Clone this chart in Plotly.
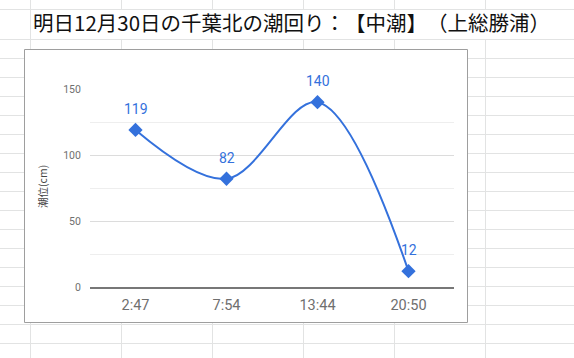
import plotly.graph_objects as go

# ---- data ----
times = ["2:47", "7:54", "13:44", "20:50"]
tide_cm = [119, 82, 140, 12]
title_text = "明日12月30日の千葉北の潮回り：【中潮】（上総勝浦）"
y_title = "潮位(cm)"
y_ticks = [0, 50, 100, 150]

# ---- layout geometry (pixels) ----
W, H = 574, 358
L, R, T, B = 90, 120, 89, 71
PW, PH = W - L - R, H - T - B
BLUE = "#3471dc"


def fx(px):
    return (px - L) / PW


def fy(py):
    return (H - B - py) / PH


shapes = []
grid_col = "#e2e3e3"
# spreadsheet row lines
rows = [9.5, 39.5] + [39.5 + 19 * k for k in range(1, 17)]
for yy in rows:
    shapes.append(dict(type="line", xref="paper", yref="paper",
                       x0=fx(0), x1=fx(W), y0=fy(yy), y1=fy(yy),
                       line=dict(color=grid_col, width=1), layer="below"))
# spreadsheet column lines (hidden in title row except first)
cols = [30.5, 121.5, 212.5, 303.5, 394.5, 485.5]
for i, xx in enumerate(cols):
    if i == 0:
        segs = [(0, H)]
    else:
        segs = [(0, 9.5), (39.5, H)]
    for a, b in segs:
        shapes.append(dict(type="line", xref="paper", yref="paper",
                           x0=fx(xx), x1=fx(xx), y0=fy(a), y1=fy(b),
                           line=dict(color=grid_col, width=1), layer="below"))
# chart frame
shapes.append(dict(type="rect", xref="paper", yref="paper",
                   x0=fx(24.5), x1=fx(467.5), y0=fy(49.5), y1=fy(322.5),
                   fillcolor="white", line=dict(color="#9e9e9e", width=1),
                   layer="below"))

fig = go.Figure()
fig.add_trace(go.Scatter(
    x=times, y=tide_cm, mode="lines+markers",
    line=dict(color=BLUE, width=2, shape="spline", smoothing=1.0),
    marker=dict(symbol="diamond", size=11, color=BLUE),
    cliponaxis=False, hoverinfo="skip", showlegend=False,
))

annotations = []
for t, v in zip(times, tide_cm):
    annotations.append(dict(x=t, y=v, xref="x", yref="y", text=str(v),
                            showarrow=False, yshift=21,
                            font=dict(family="Roboto", size=14, color=BLUE)))
# y-axis title
annotations.append(dict(xref="paper", yref="paper", x=fx(42), y=fy(187),
                        text=y_title, textangle=-90, showarrow=False,
                        xanchor="center", yanchor="middle",
                        font=dict(family="Noto Sans CJK JP", size=10.5, color="#444444")))

fig.update_layout(
    width=W, height=H,
    margin=dict(l=L, r=R, t=T, b=B, pad=0),
    paper_bgcolor="white", plot_bgcolor="rgba(0,0,0,0)",
    title=dict(text=title_text, xref="container", yref="container",
               x=33 / W, xanchor="left", y=1 - 24 / H, yanchor="middle",
               font=dict(family="Noto Sans CJK JP", size=20.5, color="#111111")),
    shapes=shapes, annotations=annotations,
    xaxis=dict(type="category", range=[-0.5, 3.5], showgrid=False,
               showline=True, linecolor="#777777", linewidth=2,
               ticks="outside", ticklen=4, tickcolor="rgba(0,0,0,0)",
               tickfont=dict(family="Roboto", size=14.5, color="#6f6f6f"),
               fixedrange=True),
    yaxis=dict(range=[0, 150], tickvals=y_ticks, showgrid=True,
               gridcolor="#dcdcdc", gridwidth=1, zeroline=False,
               minor=dict(dtick=25, showgrid=True, gridcolor="#eeeeee"),
               ticks="outside", ticklen=6, tickcolor="rgba(0,0,0,0)",
               tickfont=dict(family="Roboto", size=10.5, color="#6f6f6f"),
               fixedrange=True),
)

fig.write_html("out.html", config={"displayModeBar": False},
               post_script="document.body.style.margin='0';document.body.style.overflow='hidden';"
                           "document.body.style.textSpacingTrim='space-all';")
